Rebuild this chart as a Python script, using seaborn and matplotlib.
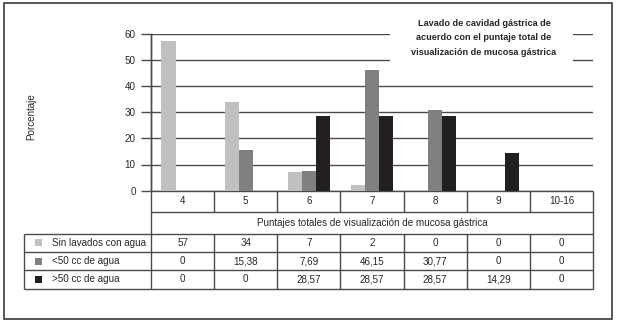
import numpy as np
import pandas as pd
import matplotlib
matplotlib.use('Agg')
import matplotlib.pyplot as plt
from matplotlib.patches import Rectangle
import seaborn as sns

categorias = ['4', '5', '6', '7', '8', '9', '10-16']
series = ['Sin lavados con agua', '<50 cc de agua', '>50 cc de agua']
sin_lavados = [57, 34, 7, 2, 0, 0, 0]
menos_50 = [0, 15.38, 7.69, 46.15, 30.77, 0, 0]
mas_50 = [0, 0, 28.57, 28.57, 28.57, 14.29, 0]
colores = ['#c0c0c2', '#808080', '#231f20']
yticks = [0, 10, 20, 30, 40, 50, 60]
titulo = 'Lavado de cavidad gástrica de\nacuerdo con el puntaje total de\nvisualización de mucosa gástrica'
xlabel = 'Puntajes totales de visualización de mucosa gástrica'
ylabel = 'Porcentaje'

df = pd.DataFrame({
    'puntaje': categorias * 3,
    'valor': sin_lavados + menos_50 + mas_50,
    'serie': np.repeat(series, len(categorias)),
})

sns.set_style('white')
plt.rcParams['font.family'] = ['Liberation Sans Narrow', 'Liberation Sans', 'DejaVu Sans']

W, H = 620, 324
fig = plt.figure(figsize=(6.2, 3.24), dpi=100)

def fx(x):
    return x / W

def fy(y):
    return 1 - y / H

# plot area in pixels
x0, x1 = 151, 593
y_top, y_base = 33.5, 190.7
line_c = '#4a4a4a'
fs = 7.1

ax = fig.add_axes([fx(x0), fy(y_base), fx(x1) - fx(x0), fy(y_top) - fy(y_base)])
sns.barplot(data=df, x='puntaje', y='valor', hue='serie', palette=colores,
            width=0.67, saturation=1, errorbar=None, legend=False, linewidth=0, ax=ax)
ax.set_xlim(-0.5, 6.5)
ax.set_ylim(0, 60)
ax.set_yticks(yticks)
ax.set_xticks([])
ax.set_xlabel('')
ax.set_ylabel('')
ax.yaxis.grid(True, color=line_c, lw=1)
ax.set_axisbelow(True)
for s in ['top', 'right', 'bottom']:
    ax.spines[s].set_visible(False)
ax.spines['left'].set_color(line_c)
ax.spines['left'].set_linewidth(1)
ax.tick_params(axis='y', left=True, length=7, color=line_c, width=1, pad=4, labelsize=fs)
ax.patch.set_alpha(0)

# pixel-space layer for frame and table
tab = fig.add_axes([0, 0, 1, 1], zorder=-1)
tab.set_xlim(0, W)
tab.set_ylim(H, 0)
tab.axis('off')
tab.add_patch(Rectangle((4, 3), 608, 316, fill=False, ec='#3a3a3a', lw=1.2))

cols = np.linspace(x0, x1, len(categorias) + 1)
centers = (cols[:-1] + cols[1:]) / 2
rows = [233.5, 252, 270, 288.7]
t0 = 24
kw = dict(colors=line_c, lw=1)
tab.hlines([y_base, 212], x0, x1, **kw)
tab.hlines(rows, t0, x1, **kw)
tab.vlines(x0, y_top, rows[-1], **kw)
tab.vlines(t0, rows[0], rows[-1], **kw)
tab.vlines(x1, y_base, rows[-1], **kw)
tab.vlines(cols[1:-1], y_base, 212, **kw)
tab.vlines(cols[1:-1], rows[0], rows[-1], **kw)

for c, lab in zip(centers, categorias):
    tab.text(c, (y_base + 212) / 2, lab, ha='center', va='center', fontsize=fs)
tab.text((x0 + x1) / 2, (212 + rows[0]) / 2, xlabel, ha='center', va='center', fontsize=fs)

for i, (nombre, vals, col) in enumerate(zip(series, [sin_lavados, menos_50, mas_50], colores)):
    yc = (rows[i] + rows[i + 1]) / 2
    tab.add_patch(Rectangle((35, yc - 3.5), 7, 7, fc=col, ec='none'))
    tab.text(52, yc, nombre, ha='left', va='center', fontsize=fs)
    for c, v in zip(centers, vals):
        tab.text(c, yc, f'{v:g}'.replace('.', ','), ha='center', va='center', fontsize=fs)

tab.text(31, 117, ylabel, rotation=90, ha='center', va='center', fontsize=fs)

# title box covering the top gridlines
ax.add_patch(Rectangle((390, 12), 183, 52, transform=tab.transData, fc='white', ec='none',
                       zorder=3, clip_on=False))
ax.text(484, 38, titulo, transform=tab.transData, ha='center', va='center', fontsize=6.6,
        fontweight='bold', linespacing=1.75, zorder=4, clip_on=False)

fig.savefig('out.png', dpi=100)
